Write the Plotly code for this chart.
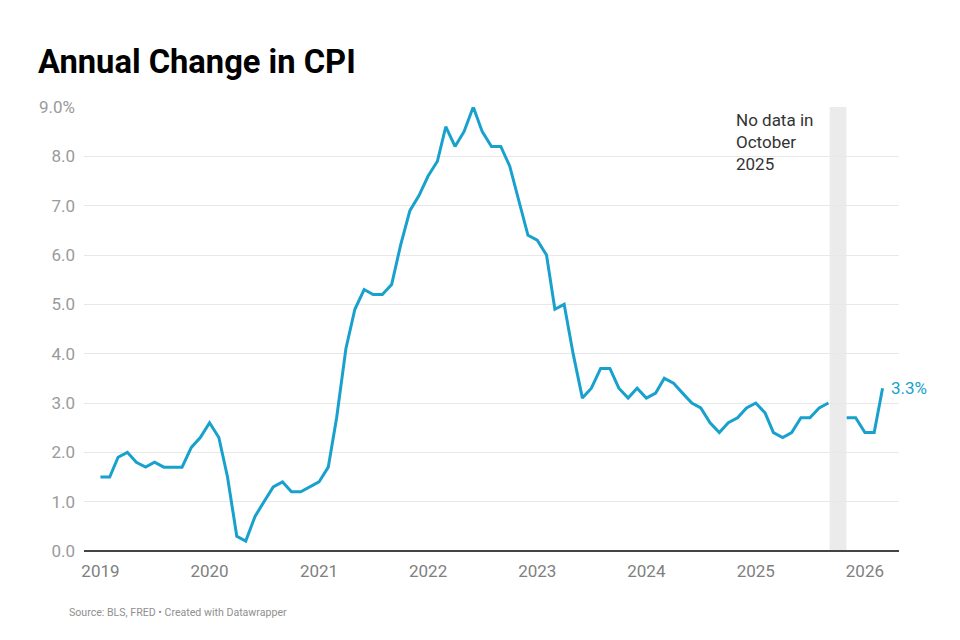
import pandas as pd
import plotly.graph_objects as go

# Monthly dates, Jan 2019 - Mar 2026
months = pd.date_range("2019-01-01", "2026-03-01", freq="MS").strftime("%Y-%m-%d").tolist()

# Annual change in CPI (%); None = no data (Oct 2025)
cpi_2019 = [1.5, 1.5, 1.9, 2.0, 1.8, 1.7, 1.8, 1.7, 1.7, 1.7, 2.1, 2.3]
cpi_2020 = [2.6, 2.3, 1.5, 0.3, 0.2, 0.7, 1.0, 1.3, 1.4, 1.2, 1.2, 1.3]
cpi_2021 = [1.4, 1.7, 2.7, 4.1, 4.9, 5.3, 5.2, 5.2, 5.4, 6.2, 6.9, 7.2]
cpi_2022 = [7.6, 7.9, 8.6, 8.2, 8.5, 9.0, 8.5, 8.2, 8.2, 7.8, 7.1, 6.4]
cpi_2023 = [6.3, 6.0, 4.9, 5.0, 4.0, 3.1, 3.3, 3.7, 3.7, 3.3, 3.1, 3.3]
cpi_2024 = [3.1, 3.2, 3.5, 3.4, 3.2, 3.0, 2.9, 2.6, 2.4, 2.6, 2.7, 2.9]
cpi_2025 = [3.0, 2.8, 2.4, 2.3, 2.4, 2.7, 2.7, 2.9, 3.0, None, 2.7, 2.7]
cpi_2026 = [2.4, 2.4, 3.3]
cpi = cpi_2019 + cpi_2020 + cpi_2021 + cpi_2022 + cpi_2023 + cpi_2024 + cpi_2025 + cpi_2026

y_ticks = [0, 1, 2, 3, 4, 5, 6, 7, 8, 9]
y_tick_text = ["0.0", "1.0", "2.0", "3.0", "4.0", "5.0", "6.0", "7.0", "8.0", "9.0%"]
x_ticks = ["2019-01-01", "2020-01-01", "2021-01-01", "2022-01-01",
           "2023-01-01", "2024-01-01", "2025-01-01", "2026-01-01"]
x_tick_text = ["2019", "2020", "2021", "2022", "2023", "2024", "2025", "2026"]

no_data_start = "2025-09-05"
no_data_end = "2025-10-31"

LINE = "#18a1cd"
FONT = "Roboto"

# page body has an 8px margin: shift everything up/left by 8px
OFF = 8
L, R, T, B = 84 - OFF, 960 - 899 + OFF, 107 - OFF, 640 - 551 + OFF
PW, PH = 960 - L - R, 640 - T - B

def px_to_paper_x(px):
    return (px - OFF - L) / PW

def px_to_paper_y(py):
    return (640 - B - (py - OFF)) / PH

fig = go.Figure()
fig.add_trace(go.Scatter(
    x=months, y=cpi, mode="lines",
    line=dict(color=LINE, width=3), connectgaps=False,
    hoverinfo="x+y", showlegend=False,
))

fig.add_shape(type="rect", xref="x", yref="paper",
              x0=no_data_start, x1=no_data_end, y0=0, y1=1,
              fillcolor="#ebebec", line=dict(width=0), layer="below")

fig.add_annotation(x="2024-10-20", y=8.97, xref="x", yref="y",
                   text="No data in<br>October<br>2025", showarrow=False,
                   xanchor="left", yanchor="top", align="left",
                   font=dict(family=FONT, size=17, color="#333333"))

fig.add_annotation(x=months[-1], y=cpi[-1], xref="x", yref="y",
                   text=f"{cpi[-1]:.1f}%", showarrow=False,
                   xanchor="left", yanchor="middle", xshift=6,
                   font=dict(family=FONT, size=17, color=LINE))

fig.add_annotation(x=px_to_paper_x(67), y=px_to_paper_y(612), xref="paper", yref="paper",
                   text="Source: BLS, FRED • Created with Datawrapper",
                   showarrow=False, xanchor="left", yanchor="middle",
                   font=dict(family=FONT, size=10.6, color="#8f8f8f"))

fig.update_layout(
    width=960, height=640,
    margin=dict(l=L, r=R, t=T, b=B),
    paper_bgcolor="white", plot_bgcolor="white",
    font=dict(family=FONT),
    title=dict(text="Annual Change in CPI", x=(38 - OFF) / 960, xanchor="left",
               xref="container", y=1 - (62 - OFF) / 640, yanchor="middle", yref="container",
               font=dict(family=FONT, size=32.7, color="#000000", weight="bold")),
    xaxis=dict(range=["2018-11-07", "2026-04-25"], type="date",
               tickvals=x_ticks, ticktext=x_tick_text,
               showgrid=False, zeroline=False, showline=False,
               ticks="", ticklabelstandoff=8,
               tickfont=dict(family=FONT, size=17, color="#808080")),
    yaxis=dict(range=[0, 9], tickvals=y_ticks, ticktext=y_tick_text,
               showgrid=True, gridcolor="#e8e8e8", gridwidth=1,
               zeroline=True, zerolinecolor="#444444", zerolinewidth=2,
               showline=False, ticks="", ticklabelstandoff=8,
               tickfont=dict(family=FONT, size=17, color="#9a9a9a")),
)

fig.write_html("out.html")
